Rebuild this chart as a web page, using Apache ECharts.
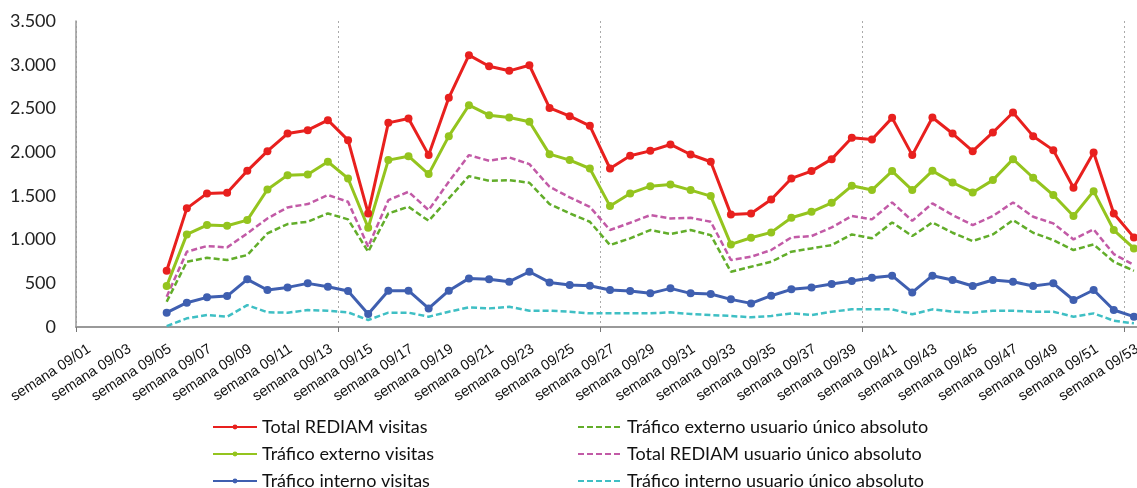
<!DOCTYPE html>
<html><head><meta charset="utf-8">
<script src="https://cdn.jsdelivr.net/npm/echarts@6/dist/echarts.min.js"></script>
<style>html,body{margin:0;padding:0;background:#fff;overflow:hidden;width:1137px;height:488px}#c{width:1150px;height:488px}</style>
</head><body><div id="c"></div>
<script>
const categories = [];
for (let i = 1; i <= 53; i++) categories.push('semana 09/' + (i < 10 ? '0' + i : '' + i));
const yTicks = [0, 500, 1000, 1500, 2000, 2500, 3000, 3500];

const totalVisitas = [null,null,null,null,
  643,1357,1528,1535,1786,2011,2213,2251,2366,2137,1299,
  2335,2385,1966,2621,3109,2983,2930,2994,2506,2411,2301,1813,1958,2015,2088,1973,1890,1288,1299,
  1459,1699,1783,1920,2164,2145,2392,1966,2396,2213,2011,2225,2453,2183,2023,1592,1996,1299,1025];
const externoVisitas = [null,null,null,null,
  469,1059,1166,1158,1223,1573,1737,1745,1890,1699,1135,
  1909,1954,1749,2183,2537,2423,2396,2347,1977,1909,1813,1383,1528,1611,1630,1566,1497,945,1021,
  1082,1249,1318,1421,1615,1566,1783,1566,1786,1653,1539,1680,1920,1707,1509,1269,1554,1109,899];
const internoVisitas = [null,null,null,null,
  164,278,339,354,545,423,453,499,461,411,149,
  415,415,213,415,556,545,518,632,510,480,472,423,411,385,442,385,377,316,270,
  358,431,453,491,526,564,587,396,587,537,469,537,518,469,499,309,423,194,118];
const totalUnico = [null,null,null,null,
  346,861,926,911,1071,1242,1368,1406,1509,1432,918,
  1451,1547,1337,1661,1966,1901,1939,1863,1604,1482,1375,1109,1192,1280,1242,1249,1204,766,804,
  880,1025,1040,1139,1269,1231,1425,1215,1414,1280,1166,1269,1425,1261,1185,1002,1117,834,709];
const externoUnico = [null,null,null,null,
  289,746,792,766,823,1071,1177,1204,1299,1231,861,
  1299,1375,1215,1471,1726,1672,1680,1650,1406,1299,1204,937,1014,1109,1063,1109,1051,632,689,
  746,861,899,937,1059,1014,1196,1040,1196,1078,983,1059,1223,1078,994,880,945,746,643];
const internoUnico = [null,null,null,null,
  10,99,137,118,251,168,164,194,186,168,80,
  164,164,118,175,225,213,232,186,186,175,156,156,156,156,168,149,137,126,111,
  126,156,137,175,202,202,202,145,202,175,164,186,186,175,175,118,156,72,42];

const names = {
  tv: 'Total REDIAM visitas', ev: 'Tráfico externo visitas', iv: 'Tráfico interno visitas',
  eu: 'Tráfico externo usuario único absoluto', tu: 'Total REDIAM usuario único absoluto', iu: 'Tráfico interno usuario único absoluto'
};

function solid(name, data, color) {
  return { name, type: 'line', data, symbol: 'circle', symbolSize: 8, showSymbol: true,
    lineStyle: { color, width: 3 }, itemStyle: { color }, z: 3 };
}
function dashed(name, data, color) {
  return { name, type: 'line', data, symbol: 'none',
    lineStyle: { color, width: 2.5, type: [6, 3] }, itemStyle: { color }, z: 2 };
}
const legendText = { fontFamily: 'Lato', fontSize: 18, color: '#111' };
const legendBase = { orient: 'vertical', top: 418, height: 80, padding: 0,
  itemWidth: 44, itemHeight: 6, itemGap: 9, textStyle: legendText };
const noDot = n => ({ name: n, itemStyle: { opacity: 0 } });
const chart = echarts.init(document.getElementById('c'), null, { renderer: 'canvas' });
chart.setOption({
  animation: false,
  backgroundColor: '#fff',
  grid: { left: 76, top: 21, width: 1068, height: 306, containLabel: false },
  xAxis: {
    type: 'category', data: categories, boundaryGap: true,
    axisLine: { lineStyle: { color: '#999', width: 2 } },
    axisTick: { show: true, interval: 12, length: 5, lineStyle: { color: '#777' } },
    splitLine: { show: true, interval: 12, lineStyle: { color: '#aaa', type: [2, 3], width: 1 } },
    axisLabel: { interval: 1, rotate: 33, margin: 23, padding: [0, -4, 0, 0],
      fontFamily: 'Liberation Sans', fontSize: 14.5, color: '#111' }
  },
  yAxis: {
    type: 'value', min: yTicks[0], max: yTicks[yTicks.length - 1], interval: 500,
    axisLine: { show: true, lineStyle: { color: '#999', width: 1.5 } },
    axisTick: { show: false }, splitLine: { show: false },
    axisLabel: { margin: 20, fontFamily: 'Lato', fontSize: 18, color: '#222',
      formatter: v => String(v).replace(/\B(?=(\d{3})+(?!\d))/g, '.') }
  },
  legend: [
    Object.assign({ data: [names.tv, names.ev, names.iv], left: 212 }, legendBase),
    Object.assign({ data: [noDot(names.eu), noDot(names.tu), noDot(names.iu)], left: 577 }, legendBase)
  ],
  series: [
    dashed(names.iu, internoUnico, '#3fbfc4'),
    dashed(names.eu, externoUnico, '#62ad2a'),
    dashed(names.tu, totalUnico, '#c25aa6'),
    solid(names.iv, internoVisitas, '#3f5fb0'),
    solid(names.ev, externoVisitas, '#94c41e'),
    solid(names.tv, totalVisitas, '#e8201e')
  ]
});
</script></body></html>
